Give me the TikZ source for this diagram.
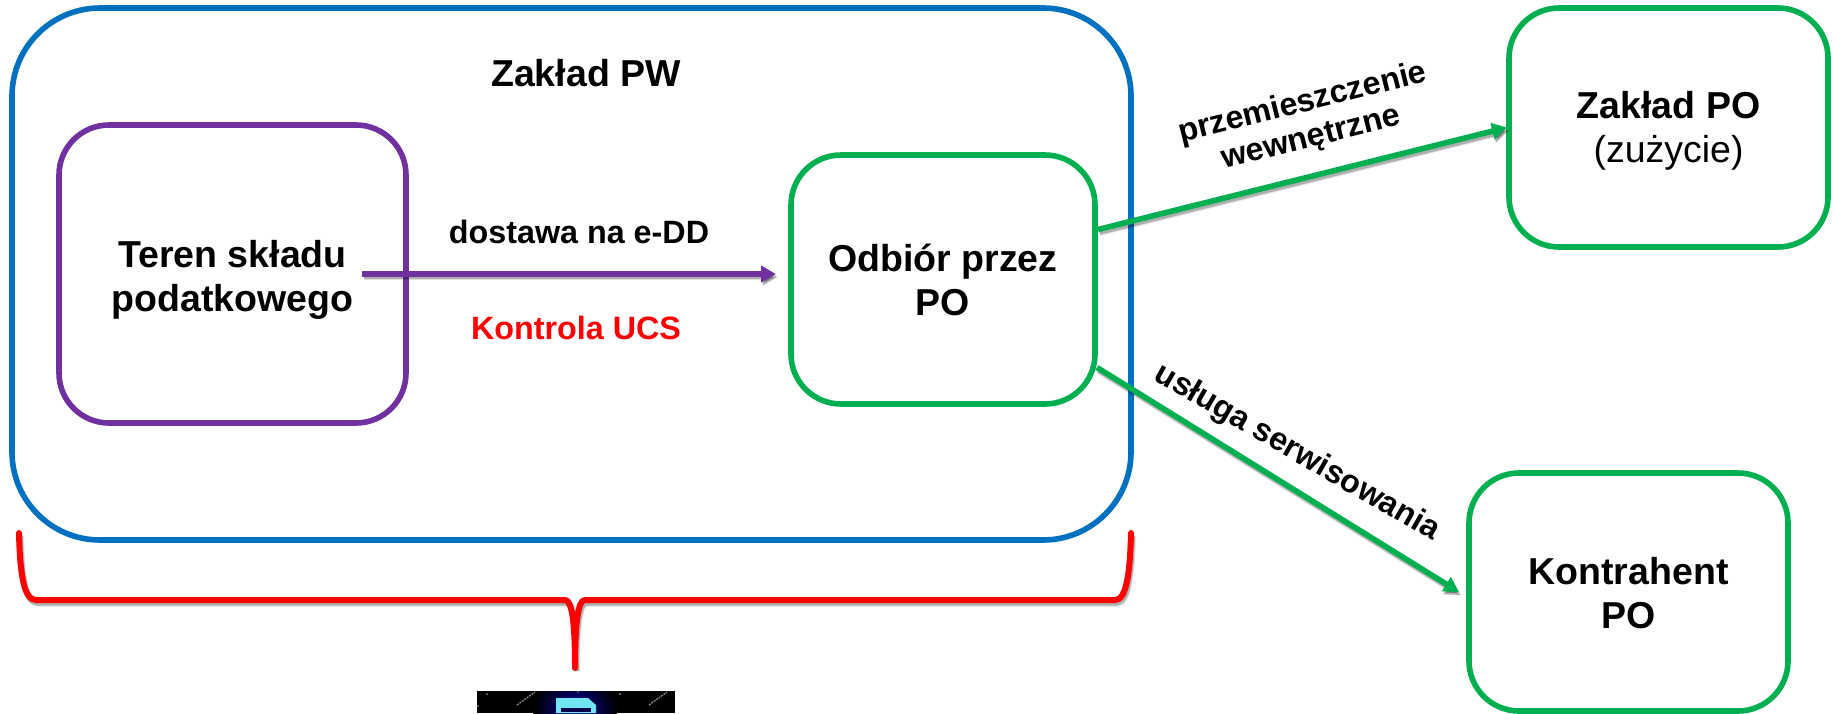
\documentclass[tikz,border=0pt]{standalone}
\usepackage{fontspec}
\setmainfont{Liberation Sans}
\usetikzlibrary{arrows.meta}
\definecolor{cblue}{HTML}{0070C0}
\definecolor{cgreen}{HTML}{00B050}
\definecolor{cpurple}{HTML}{7030A0}
\definecolor{cred}{HTML}{FF0000}
\definecolor{cdoc}{HTML}{6FE6F2}
\newcommand\boxtext[2]{\raisebox{#1}[0pt][0pt]{\begin{tabular}[t]{@{}c@{}}#2\end{tabular}}}
\newcommand\bigtxt{\fontsize{37.5}{44.5}\selectfont}
\newcommand\midtxt{\fontsize{32.3}{36}\selectfont}
\tikzset{
  x=1pt,y=-1pt,
  areabox/.style={draw,line width=5.6pt,rounded corners=#1,inner sep=0pt,outer sep=0pt,font=\bigtxt,align=center},
  softshadow/.style={preaction={draw=black,opacity=.12,line width=#1+1pt,transform canvas={shift={(1.5pt,-3pt)}}},
                     preaction={draw=black,opacity=.22,line width=#1-1pt,transform canvas={shift={(1.5pt,-3pt)}}}},
  conn/.style={line width=5.6pt,softshadow=5.6pt,-{Triangle[length=15pt,width=16pt]}},
  lab/.style={font=\midtxt\bfseries,inner sep=0pt,align=center},
}
\begin{document}
\begin{tikzpicture}
\useasboundingbox (0,0) rectangle (1835,713);
\fill[white] (0,0) rectangle (1835,713);
% boxes
\node[areabox=88pt,draw=cblue,minimum width=1119pt,minimum height=532pt] (pw) at (571.5,274) {};
\node[areabox=50pt,draw=cpurple,minimum width=347pt,minimum height=298pt] (teren) at (232.5,274)
  {\boxtext{7pt}{\textbf{Teren składu}\\\textbf{podatkowego}}};
\node[areabox=50pt,draw=cgreen,minimum width=304pt,minimum height=249pt] (odbior) at (943,279.5)
  {\boxtext{8.5pt}{\textbf{Odbiór przez}\\\textbf{PO}}};
\node[areabox=50pt,draw=cgreen,minimum width=319pt,minimum height=239pt] (zpo) at (1668.5,127.5)
  {\boxtext{9.5pt}{\textbf{Zakład PO}\\(zużycie)}};
\node[areabox=50pt,draw=cgreen,minimum width=319pt,minimum height=238pt] (kpo) at (1628.5,592)
  {\boxtext{8pt}{\textbf{Kontrahent}\\\textbf{PO}}};
\node[font=\bigtxt\bfseries,inner sep=0pt,anchor=base] (pwlabel) at (586,86) {Zakład PW};
% connectors
\draw[conn,cpurple] ([xshift=-44pt]teren.east) -- ([xshift=-15pt,yshift=5.5pt]odbior.west);
\draw[conn,cgreen] ([xshift=3pt,yshift=50pt]odbior.east) -- ([xshift=-2pt]zpo.west);
\draw[conn,cgreen] ([xshift=2pt,yshift=-88pt]odbior.east) -- ([xshift=-10pt]kpo.west);
% labels
\node[lab,anchor=base] (dost) at (579,243) {dostawa na e-DD};
\node[lab,anchor=base,text=cred] (ucs) at (576,339) {Kontrola UCS};
\node[lab,rotate=14] (przem) at (1307,121) {przemieszczenie\\wewnętrzne};
\node[lab,rotate=-30] (usl) at (1297,453) {usługa serwisowania};
% brace
\draw[cred,line width=6pt,line cap=round,line join=round,softshadow=6pt]
  (19,533) .. controls (20,575) and (24,600) .. (36,600) -- (565,600)
  .. controls (572,600) and (575,622) .. (575,668)
  .. controls (575,622) and (578,600) .. (585,600) -- (1115,600)
  .. controls (1126,600) and (1130,575) .. (1131,533);
% picture
\begin{scope}
\clip (477,691) rectangle (675,713);
\fill[black] (477,691) rectangle (675,713);
\shade[inner color=blue!65!black,outer color=black] (575,713) circle (42);
\fill[cdoc] (556,698) -- (588,698) -- (596,705) -- (596,713) -- (556,713) -- cycle;
\fill[black!70!blue] (561,707.5) rectangle (591,712);
\draw[black!45,line width=1.3pt,dash pattern=on 2pt off 1pt] (517,705) -- (535,692);
\draw[black!45,line width=1.3pt,dash pattern=on 2pt off 1pt] (649,705) -- (667,692);
\fill[black!45] (487,694) circle (1) (620,694) circle (1) (478,706) circle (1) (578,692) circle (.8);
\end{scope}
\end{tikzpicture}
\end{document}
